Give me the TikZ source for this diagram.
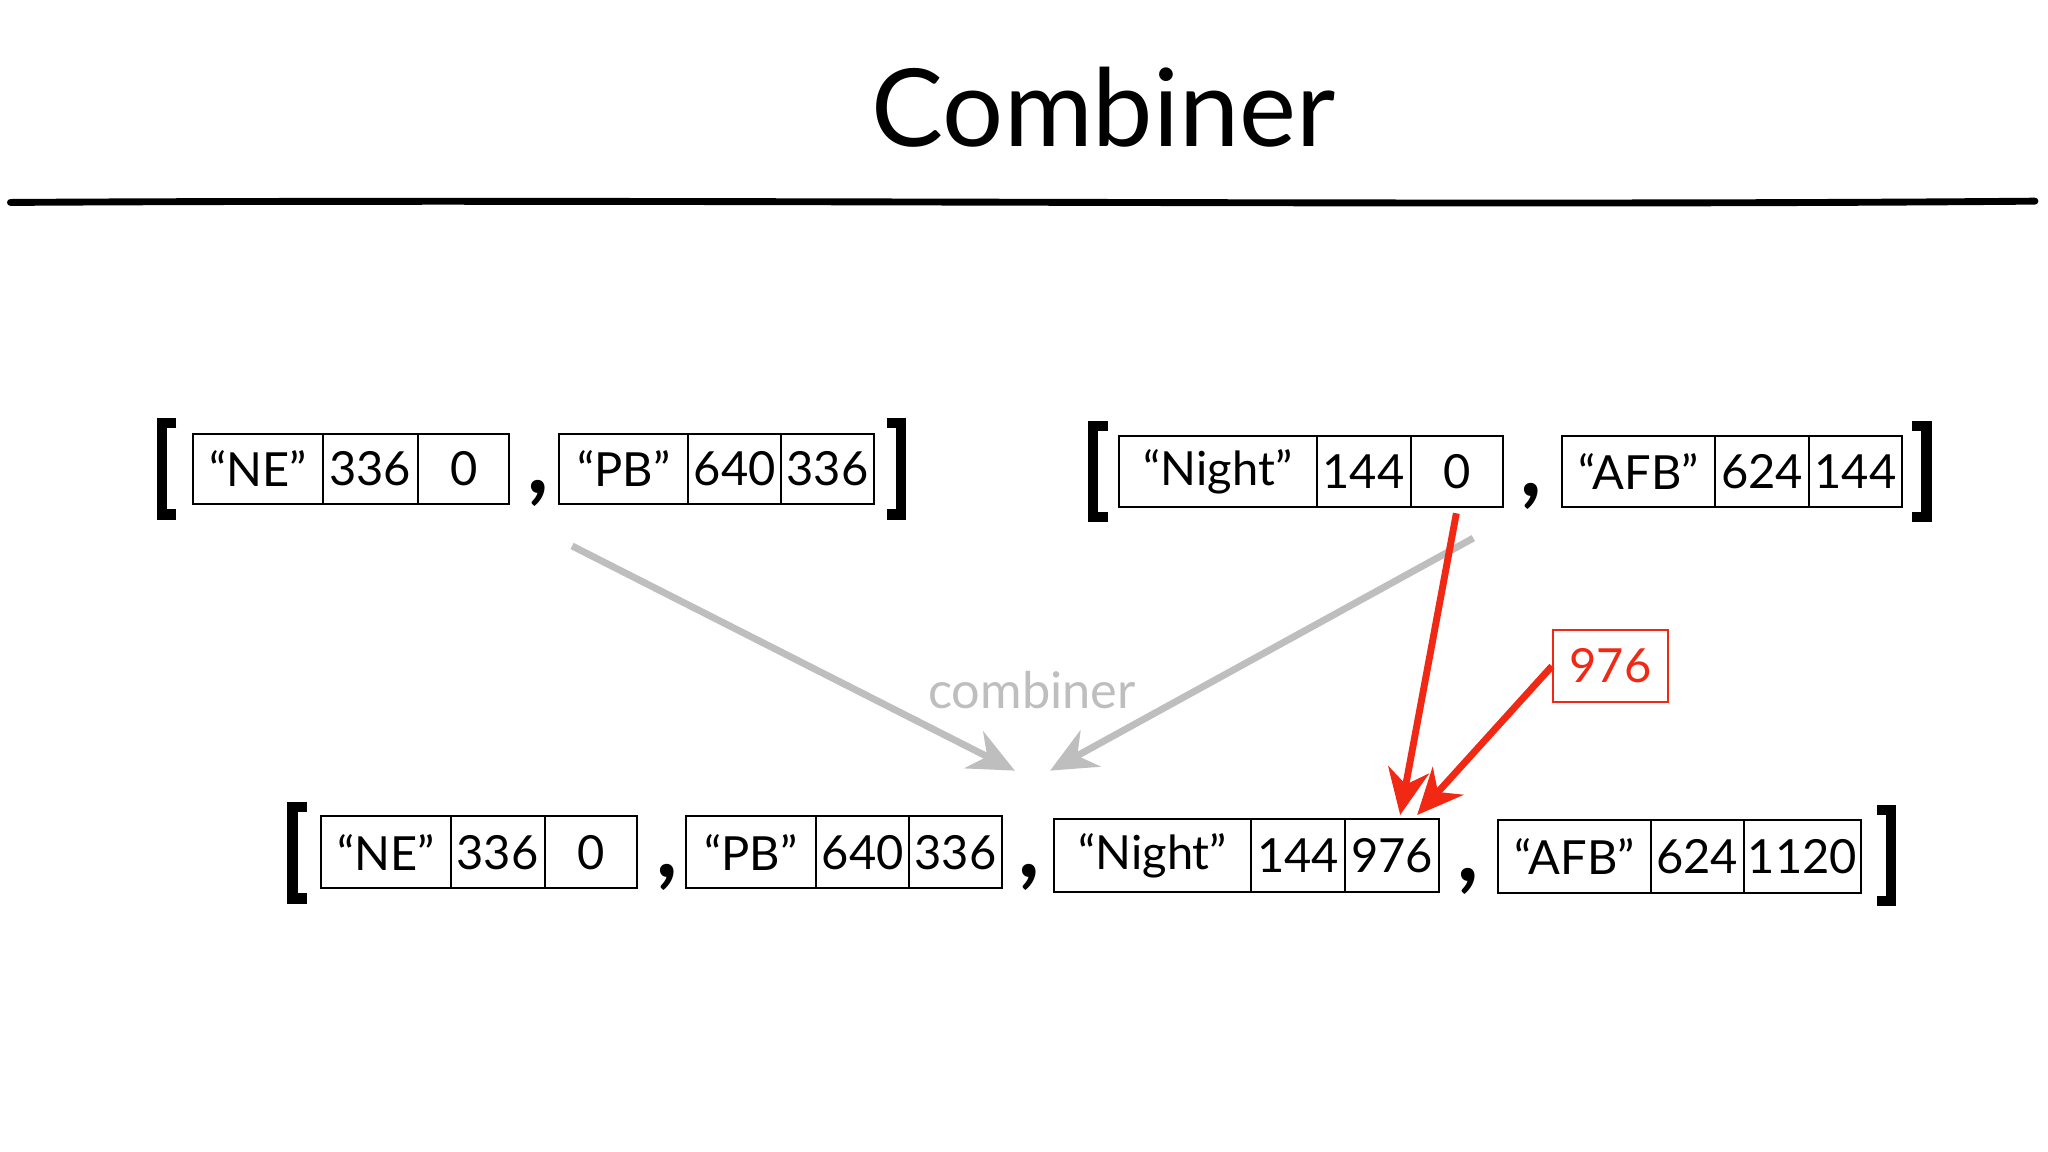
\documentclass[tikz,border=0pt]{standalone}
\usepackage{fontspec}
\setmainfont{Lato}
\usetikzlibrary{arrows.meta}
\definecolor{redar}{RGB}{240,40,20}
\definecolor{grayar}{RGB}{190,190,190}
\tikzset{
 cell/.style={draw,line width=0.9pt,inner sep=0pt,font=\fontsize{20.5}{24}\selectfont},
 brk/.style={line width=4.5pt},
 commasty/.style={font=\fontsize{40}{40}\selectfont\bfseries},
 garrow/.style={grayar,line width=3pt,-{Stealth[length=20pt,width=18pt]}},
 rarrow/.style={redar,line width=3pt,-{Stealth[length=20pt,width=18pt]}}
}
\newcommand{\cbx}[6]{\node[cell,minimum width={(#3-#2)*0.02cm},minimum height={(#5-#4)*0.02cm}] (#1) at ({(#2+#3)/2},{(#4+#5)/2}) {#6};}
\newcommand{\lbrk}[4]{\draw[brk] ({#2+11},#3) -- (#2,#3) -- (#2,#4) -- ({#2+11},#4); \coordinate (#1) at (#2,{(#3+#4)/2});}
\newcommand{\rbrk}[4]{\draw[brk] ({#2-11},#3) -- (#2,#3) -- (#2,#4) -- ({#2-11},#4); \coordinate (#1) at (#2,{(#3+#4)/2});}
\begin{document}
\begin{tikzpicture}[x=0.02cm,y=-0.02cm]
\useasboundingbox[fill=white] (0,0) rectangle (1568,882);
\node[font=\fontsize{47}{54}\selectfont] (title) at (845,82) {Combiner};
\draw[line width=3pt,line cap=round] (8,155) .. controls (500,152) and (1100,158) .. (1558,154);
% top left
\lbrk{b1}{124}{324}{394}
\cbx{a1}{148}{247}{332}{386}{“NE”}
\cbx{a2}{247}{320}{332}{386}{336}
\cbx{a3}{320}{390}{332}{386}{0}
\node[commasty] (c1) at (412,378) {,};
\cbx{a4}{428}{527}{332}{386}{“PB”}
\cbx{a5}{527}{598}{332}{386}{640}
\cbx{a6}{598}{669}{332}{386}{336}
\rbrk{b2}{690}{324}{394}
% top right
\lbrk{b3}{837}{326}{396}
\cbx{n1}{857}{1008}{334}{388}{“Night”}
\cbx{n2}{1008}{1080}{334}{388}{144}
\cbx{n3}{1080}{1151}{334}{388}{0}
\node[commasty] (c2) at (1172,380) {,};
\cbx{n4}{1196}{1313}{334}{388}{“AFB”}
\cbx{n5}{1313}{1385}{334}{388}{624}
\cbx{n6}{1385}{1456}{334}{388}{144}
\rbrk{b4}{1475}{326}{396}
% bottom
\lbrk{b5}{224}{618}{688}
\cbx{m1}{246}{345}{625}{680}{“NE”}
\cbx{m2}{345}{417}{625}{680}{336}
\cbx{m3}{417}{488}{625}{680}{0}
\node[commasty] (c3) at (511,672) {,};
\cbx{m4}{525}{625}{625}{680}{“PB”}
\cbx{m5}{625}{696}{625}{680}{640}
\cbx{m6}{696}{767}{625}{680}{336}
\node[commasty] (c4) at (788,672) {,};
\cbx{m7}{807}{958}{627}{683}{“Night”}
\cbx{m8}{958}{1030}{627}{683}{144}
\cbx{m9}{1030}{1102}{627}{683}{976}
\node[commasty] (c5) at (1124,675) {,};
\cbx{m10}{1147}{1264}{628}{684}{“AFB”}
\cbx{m11}{1264}{1335}{628}{684}{624}
\cbx{m12}{1335}{1425}{628}{684}{1120}
\rbrk{b6}{1448}{620}{690}
% arrows
\coordinate (g1s) at (438,418); \coordinate (g1e) at (777,590);
\coordinate (g2s) at (1128,412); \coordinate (g2e) at (804,590);
\draw[garrow] (g1s) -- (g1e);
\draw[garrow] (g2s) -- (g2e);
\node[grayar,font=\fontsize{22}{26}\selectfont] (comb) at (790,528) {combiner};
\node[draw=redar,line width=0.9pt,text=redar,inner sep=0pt,minimum width=88*0.02cm,minimum height=55*0.02cm,font=\fontsize{20.5}{24}\selectfont] (r976) at (1233,510) {976};
\coordinate (rs) at (1115,393); \coordinate (re1) at (1072,624); \coordinate (re2) at (1085,624);
\draw[rarrow] (rs) -- (re1);
\draw[rarrow] (r976.west) -- (re2);
\end{tikzpicture}
\end{document}
